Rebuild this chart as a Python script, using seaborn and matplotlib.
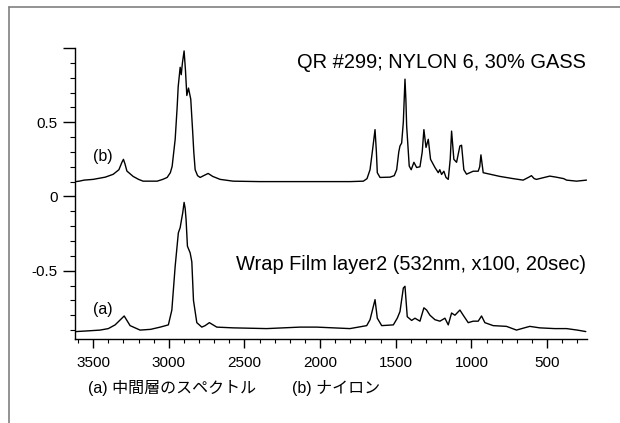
import pandas as pd
import matplotlib.pyplot as plt
import seaborn as sns
from matplotlib.ticker import MultipleLocator, FixedLocator

# Raman spectra (wavenumber cm-1, intensity incl. offset)
wn_b = [3615, 3592, 3560, 3500, 3420, 3368, 3330, 3310, 3300, 3290, 3277, 3236, 3200, 3170,
        3077, 3040, 3011, 2990, 2978, 2958, 2945, 2938, 2925, 2918, 2910, 2899, 2890, 2881,
        2870, 2855, 2842, 2835, 2826, 2810, 2793, 2770, 2740, 2710, 2661, 2575, 2400, 2200,
        2000, 1800, 1714, 1690, 1670, 1655, 1637, 1628, 1622, 1604, 1538, 1510, 1494, 1480,
        1472, 1461, 1450, 1439, 1433, 1428, 1411, 1398, 1380, 1362, 1340, 1325, 1314, 1300,
        1285, 1270, 1241, 1219, 1209, 1197, 1182, 1168, 1153, 1140, 1131, 1116, 1098, 1076,
        1065, 1050, 1032, 988, 955, 945, 937, 922, 878, 812, 724, 658, 620, 603, 585, 570,
        530, 482, 440, 415, 390, 371, 305, 239]
int_b = [0.10, 0.103, 0.11, 0.115, 0.13, 0.149, 0.18, 0.23, 0.25, 0.22, 0.171, 0.135, 0.115, 0.103,
         0.103, 0.115, 0.128, 0.16, 0.203, 0.385, 0.6, 0.74, 0.87, 0.82, 0.9, 0.98, 0.85, 0.68,
         0.73, 0.655, 0.43, 0.3, 0.18, 0.14, 0.128, 0.14, 0.155, 0.135, 0.115, 0.103, 0.1, 0.1,
         0.1, 0.1, 0.103, 0.12, 0.18, 0.3, 0.45, 0.3, 0.16, 0.128, 0.13, 0.14, 0.18, 0.3,
         0.34, 0.36, 0.5, 0.79, 0.65, 0.475, 0.205, 0.18, 0.23, 0.195, 0.2, 0.3, 0.45, 0.33,
         0.385, 0.25, 0.195, 0.16, 0.18, 0.148, 0.17, 0.128, 0.115, 0.25, 0.44, 0.25, 0.23, 0.34,
         0.345, 0.18, 0.15, 0.17, 0.17, 0.2, 0.28, 0.16, 0.15, 0.135, 0.12, 0.11, 0.13, 0.14, 0.12, 0.115,
         0.125, 0.137, 0.13, 0.125, 0.12, 0.11, 0.103, 0.11]

wn_a = [3612, 3530, 3454, 3400, 3355, 3320, 3295, 3280, 3256, 3190, 3120, 3057, 3003, 2980,
        2958, 2937, 2925, 2915, 2908, 2899, 2892, 2886, 2877, 2859, 2848, 2837, 2815, 2782,
        2760, 2732, 2683, 2575, 2353, 2133, 2022, 1803, 1692, 1670, 1659, 1637, 1622, 1593,
        1516, 1490, 1472, 1450, 1439, 1424, 1395, 1373, 1340, 1314, 1296, 1274, 1241, 1208,
        1175, 1153, 1131, 1109, 1076, 1054, 1021, 988, 955, 933, 911, 856, 768, 702, 650,
        614, 548, 450, 371, 300, 244]
int_a = [-0.91, -0.905, -0.9, -0.89, -0.865, -0.83, -0.805, -0.83, -0.87, -0.9, -0.895, -0.88, -0.865, -0.765,
         -0.47, -0.245, -0.21, -0.15, -0.11, -0.04, -0.08, -0.155, -0.335, -0.38, -0.44, -0.7, -0.85, -0.88,
         -0.87, -0.85, -0.88, -0.885, -0.89, -0.88, -0.88, -0.89, -0.87, -0.83, -0.785, -0.695, -0.82, -0.87,
         -0.865, -0.82, -0.775, -0.617, -0.605, -0.81, -0.835, -0.82, -0.84, -0.75, -0.765, -0.8, -0.83, -0.84,
         -0.82, -0.865, -0.785, -0.8, -0.765, -0.8, -0.85, -0.84, -0.84, -0.805, -0.85, -0.87, -0.875, -0.9, -0.885,
         -0.875, -0.885, -0.89, -0.89, -0.9, -0.91]

yticks = [-0.5, 0, 0.5, 1.0]
ytick_labels = ["-0.5", "0", "0.5", ""]
xticks = [3500, 3000, 2500, 2000, 1500, 1000, 500]

df_b = pd.DataFrame({"wn": wn_b, "intensity": int_b})
df_a = pd.DataFrame({"wn": wn_a, "intensity": int_a})

sns.set_style("ticks")
plt.rcParams["font.family"] = ["Liberation Sans", "Noto Sans CJK JP", "DejaVu Sans"]
plt.rcParams["text.color"] = "black"
plt.rcParams["xtick.color"] = "black"
plt.rcParams["ytick.color"] = "black"
plt.rcParams["axes.edgecolor"] = "black"

fig = plt.figure(figsize=(6.2, 4.23), dpi=100)
ax = fig.add_axes([0.121, 0.1986, 0.826, 0.688])

sns.lineplot(data=df_b, x="wn", y="intensity", color="black", linewidth=1.0, sort=False, ax=ax)
sns.lineplot(data=df_a, x="wn", y="intensity", color="black", linewidth=1.0, sort=False, ax=ax)

ax.set_xlim(3620, 235)
ax.set_ylim(-0.96, 1.0)
ax.set_xticks(xticks)
ax.xaxis.set_minor_locator(MultipleLocator(100))
ax.yaxis.set_major_locator(FixedLocator(yticks))
ax.set_yticklabels(ytick_labels)
ax.yaxis.set_minor_locator(MultipleLocator(0.1))
ax.set_xlabel("")
ax.set_ylabel("")
sns.despine(ax=ax)
ax.spines["left"].set_linewidth(1.0)
ax.spines["bottom"].set_linewidth(1.0)
ax.tick_params(axis="y", which="major", length=9, width=1.0, labelsize=11, colors="black")
ax.tick_params(axis="y", which="minor", length=3.6, width=0.8, colors="black")
ax.tick_params(axis="x", which="major", length=6.5, width=1.0, labelsize=11, pad=6, colors="black")
ax.tick_params(axis="x", which="minor", length=3, width=0.8, colors="black")

ax.text(244, 0.9, "QR #299; NYLON 6, 30% GASS", ha="right", va="center", fontsize=14.4)
ax.text(244, -0.46, "Wrap Film layer2 (532nm, x100, 20sec)", ha="right", va="center", fontsize=14.4)
ax.text(3500, 0.27, "(b)", ha="left", va="center", fontsize=11.5)
ax.text(3500, -0.76, "(a)", ha="left", va="center", fontsize=11.5)

fig.text(0.142, 0.083, "(a) 中間層のスペクトル", ha="left", va="center", fontsize=11.5)
fig.text(0.471, 0.083, "(b) ナイロン", ha="left", va="center", fontsize=11.5)

# partial grey frame (top and left only)
fig.add_artist(plt.Line2D([0.0145, 1.0], [0.9835, 0.9835], color="#808080", linewidth=1.2))
fig.add_artist(plt.Line2D([0.0145, 0.0145], [0.0, 0.9835], color="#808080", linewidth=1.2))

fig.savefig("out.png", dpi=100)
